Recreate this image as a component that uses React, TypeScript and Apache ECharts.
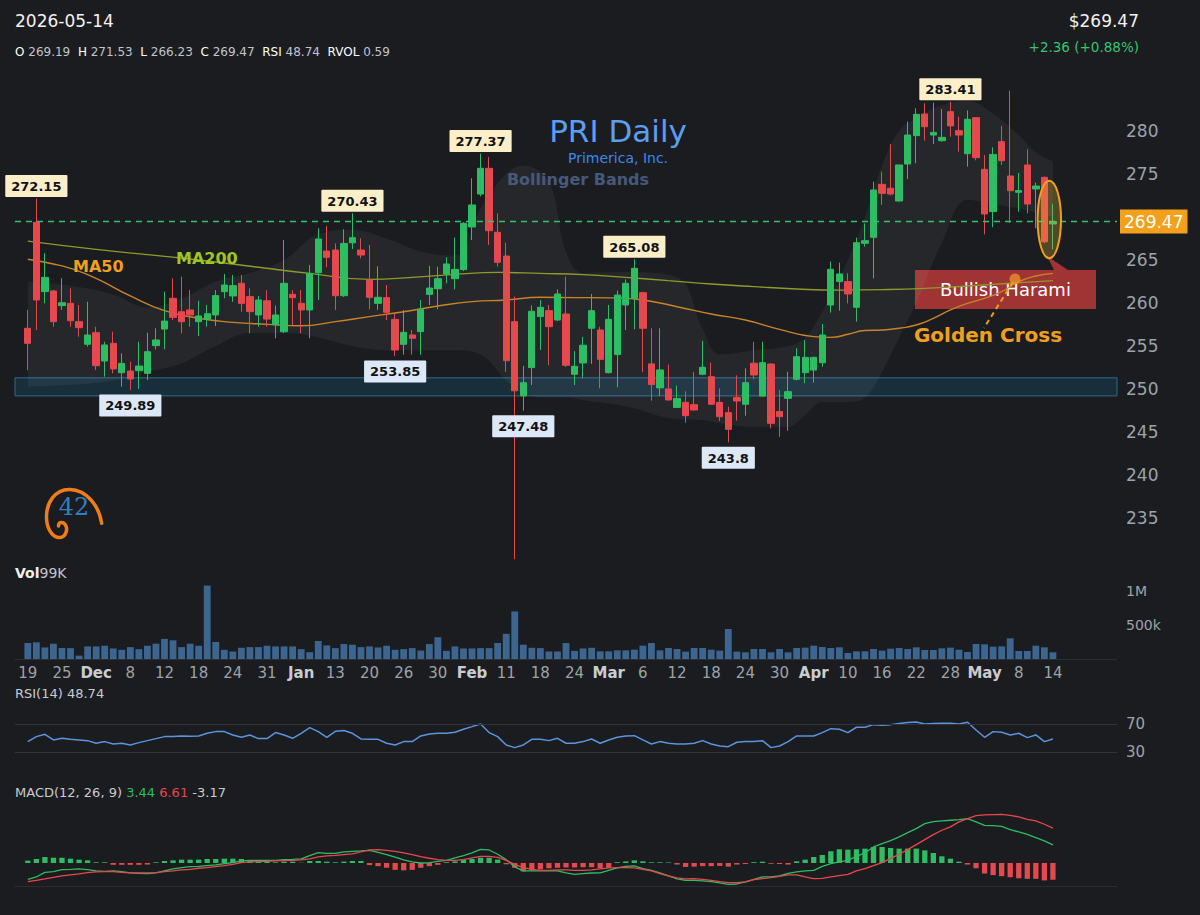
import React, { useEffect, useRef } from 'react';
import * as echarts from 'echarts';

// ---------- data ----------
const PAD_LEFT = 1;
const PAD_RIGHT = 7;
const TICK_EVERY = 4;
const X_TICKS = ['19','25','Dec','8','12','18','24','31','Jan','13','20','26','30','Feb','11','18','24','Mar','6','12','18','24','30','Apr','10','16','22','28','May','8','14'];
const MONTH_TICKS = ['Dec','Jan','Feb','Mar','Apr','May'];
const LAST_DATE = '2026-05-14';

const OPEN = [
257.06,269.38,261.32,261.40,259.69,259.96,257.83,255.20,256.55,253.26,
255.31,251.90,252.09,252.13,251.82,255.04,256.97,260.55,258.99,259.19,
257.83,258.13,258.61,261.32,260.82,262.29,260.74,258.61,260.26,257.47,
256.66,261.01,259.96,259.19,263.53,266.04,266.16,260.85,267.00,266.16,
262.67,259.96,260.62,258.10,255.19,256.28,256.67,261.00,261.66,263.37,
262.83,263.88,268.84,272.67,275.66,268.22,265.46,257.83,249.19,252.49,
258.42,259.11,258.02,258.72,251.71,253.03,257.06,256.86,251.90,254.00,
259.77,260.54,261.20,252.92,250.13,250.01,247.86,248.45,248.18,251.71,
251.43,248.45,247.25,249.00,248.22,253.00,249.18,252.90,247.37,248.91,
251.13,251.90,252.20,253.06,259.77,262.49,262.49,259.50,266.94,267.64,
273.80,273.34,271.86,276.16,279.46,281.98,279.53,278.87,282.25,280.04,
277.36,281.55,275.54,270.62,278.76,274.77,272.87,276.05,273.26,274.61,
269.19];
const HIGH = [
259.19,272.15,265.78,261.50,262.87,261.70,259.77,260.15,257.24,255.50,
256.66,254.15,253.17,255.50,256.55,257.06,261.32,262.87,263.06,261.50,
260.26,259.77,261.50,263.37,263.26,263.26,261.70,260.82,261.50,259.69,
267.33,261.50,261.51,264.42,268.69,268.95,266.93,268.57,270.43,267.52,
266.74,264.27,262.09,258.88,259.19,256.86,260.35,264.31,264.23,265.31,
267.60,269.40,274.50,277.37,276.98,270.42,267.01,260.74,252.68,259.73,
260.35,259.77,261.58,263.06,254.41,256.05,261.05,257.25,259.77,261.44,
262.75,265.08,261.30,257.06,257.06,252.84,250.40,249.74,252.00,255.62,
253.06,250.08,247.95,251.59,252.40,255.50,255.50,253.00,249.88,252.01,
254.73,255.70,253.75,257.56,264.81,264.69,263.46,267.60,269.26,274.11,
275.27,278.50,276.10,281.09,282.64,283.22,283.30,282.56,283.41,281.67,
282.40,281.60,277.20,278.10,280.58,284.70,275.12,277.87,273.99,274.70,
271.53];
const LOW = [
252.20,256.86,259.96,257.24,259.19,257.24,256.08,254.92,252.20,251.43,
251.82,250.27,249.89,250.00,251.05,254.61,254.61,258.02,256.47,257.24,
256.16,257.24,257.32,260.55,260.15,259.00,256.47,257.24,257.24,255.89,
256.50,257.44,256.48,255.90,260.35,264.15,259.19,260.70,266.28,265.19,
259.27,259.19,258.02,253.85,254.00,254.00,254.00,259.77,259.27,262.28,
261.58,263.70,267.32,272.40,266.74,264.23,252.00,230.20,247.48,250.46,
254.53,252.76,257.90,252.57,250.46,251.24,252.92,250.08,251.80,250.20,
256.86,256.94,251.95,248.64,249.18,248.64,247.80,246.08,247.50,251.60,
248.14,246.28,243.80,246.32,246.90,251.13,249.10,245.43,244.44,245.16,
251.00,250.67,250.75,252.59,258.88,259.11,259.96,257.83,266.55,262.87,
271.40,272.50,271.80,274.42,276.24,278.88,278.49,278.76,279.34,277.59,
275.85,276.59,267.98,268.82,276.05,269.30,270.62,270.43,268.68,266.95,
266.23];
const CLOSE = [
255.31,260.35,262.98,257.83,260.03,257.94,257.13,256.28,252.71,255.12,
252.33,252.98,251.16,252.67,254.34,255.70,257.90,258.33,257.83,258.61,
258.49,258.75,260.86,262.09,262.02,259.96,259.00,260.35,258.13,258.61,
262.29,260.62,259.19,263.45,267.44,265.31,260.85,266.93,267.60,265.58,
260.66,260.66,258.91,254.53,256.59,255.90,259.27,261.74,262.83,264.54,
263.91,269.27,271.40,275.66,268.41,264.73,253.29,249.80,250.74,259.04,
259.50,257.25,261.05,252.76,252.64,255.09,259.11,253.45,258.10,260.93,
262.29,264.03,257.06,250.52,252.22,248.73,248.91,246.90,247.56,252.52,
248.22,246.78,245.31,248.60,250.74,251.63,253.06,246.01,246.78,249.69,
253.76,253.68,253.68,256.28,263.92,263.38,261.05,267.01,267.25,273.14,
272.75,272.67,276.05,279.53,281.94,280.50,279.84,279.26,280.59,279.53,
281.36,276.90,270.35,277.28,276.55,273.06,273.07,271.51,273.60,267.11,
269.47];
const VOLUME_K = [
235,245,170,225,160,160,50,185,185,195,
155,135,175,145,195,225,295,275,175,225,
195,1080,250,135,110,165,175,175,195,185,
185,185,145,100,265,200,160,220,210,175,
185,170,195,135,145,160,125,220,320,120,
185,155,155,160,160,235,370,700,210,165,
160,110,110,235,120,155,165,113,113,127,
127,137,196,235,127,162,147,108,162,162,
137,123,441,108,98,147,147,98,147,98,
162,167,196,176,162,172,88,113,113,147,
123,152,162,147,172,132,132,157,167,137,
103,221,216,181,186,304,118,118,196,172,
99];
const RSI = [
45,52.2,55.6,47.4,49.8,48.3,47.4,46.4,42.6,45,
41.6,42.6,40.1,43.5,46.4,49.3,52.2,52.2,53.1,52.7,
53.1,57,59.4,59.4,54.6,51.2,54.6,49.3,49.3,58,
54.6,49.8,57,65.2,59.4,51.2,59.9,60.9,57,48.8,
48.3,48.3,42.6,40.1,45,45,53.1,56,57,57,
58.4,62.8,66.6,70.5,58,52.2,40.1,36.3,40.1,48.3,
48.3,46.4,49.8,42.6,42.6,45,48.8,42.6,47.4,51.2,
53.1,53.6,47.4,41.6,45,42.6,41.6,41.6,42.6,46.4,
41.6,38.7,37.7,44,45,45,46.4,36.3,38.7,45,
53.1,53.1,53.1,58,63.7,62.8,58,65.7,65.7,69.5,
68.6,69.5,71,72.4,73.4,70.5,71,71.4,71.4,70.5,
72.9,61.8,51.2,59.4,58.4,54.6,57,50.7,54.6,45,
48.74];
const MACD = [
-3.09,-2.65,-1.77,-1.64,-1.26,-1.20,-1.13,-1.26,-1.51,-1.58,
-1.51,-1.64,-1.89,-1.96,-2.02,-1.89,-1.51,-1.13,-0.88,-0.69,
-0.63,-0.50,-0.37,-0.12,0.07,0.39,0.51,0.51,0.51,0.51,
0.64,0.70,0.77,1.40,1.97,1.84,1.84,2.09,2.22,2.28,
2.40,2.00,1.60,1.10,0.60,0.20,0.00,0.05,0.30,0.51,
0.96,1.40,1.91,2.60,2.47,1.65,0.64,-0.75,-1.51,-1.51,
-1.51,-1.45,-1.51,-1.89,-2.15,-2.02,-1.90,-1.89,-1.39,-0.94,
-0.63,-0.56,-1.07,-1.39,-1.89,-2.46,-3.03,-3.28,-3.28,-3.41,
-3.54,-3.79,-4.04,-3.98,-3.60,-3.09,-2.65,-2.65,-2.46,-1.96,
-1.70,-1.51,-1.39,-0.63,-0.12,0.20,0.51,1.27,1.91,3.04,
3.68,4.25,4.94,5.77,6.53,7.47,7.85,7.98,8.11,8.23,
8.42,7.79,7.15,7.09,6.96,6.34,5.89,5.44,4.82,4.18,
3.44];
const SIGNAL = [
-3.54,-3.28,-3.03,-2.71,-2.46,-2.27,-2.08,-1.83,-1.70,-1.64,
-1.64,-1.77,-1.89,-1.89,-1.89,-1.83,-1.64,-1.51,-1.32,-1.20,
-1.00,-0.88,-0.69,-0.50,-0.25,0.07,0.20,0.26,0.32,0.39,
0.45,0.51,0.58,0.77,1.15,1.34,1.46,1.59,1.72,2.10,
2.50,2.55,2.40,2.20,1.90,1.60,1.20,0.90,0.65,0.51,
0.51,0.64,0.96,1.27,1.27,1.08,0.51,-0.25,-0.88,-1.20,
-1.39,-1.39,-1.32,-1.32,-1.39,-1.40,-1.30,-1.12,-0.94,-0.88,
-0.88,-0.94,-1.20,-1.51,-2.02,-2.46,-2.84,-3.03,-2.97,-3.09,
-3.28,-3.54,-3.73,-3.73,-3.60,-3.16,-2.97,-2.78,-2.53,-2.27,
-2.27,-2.65,-2.97,-2.90,-2.65,-2.40,-2.15,-1.51,-1.07,-0.50,
0.07,0.89,1.65,2.54,3.49,4.44,5.39,6.21,6.84,7.79,
8.42,8.99,9.12,9.18,9.24,9.05,8.74,8.29,7.98,7.35,
6.61];
const HIST = [
0.45,0.76,1.14,1.0,1.0,0.82,0.63,0.5,0.13,0.13,
-0.35,-0.35,-0.35,-0.35,-0.3,0.13,0.38,0.5,0.63,0.63,
0.63,0.76,0.76,0.82,0.82,0.76,0.5,0.32,0.25,0.13,
0.25,0.25,0.05,0.38,0.38,0.25,0.13,0.25,0.38,0.38,
-0.4,-0.6,-0.9,-1.3,-1.4,-1.3,-0.9,-0.6,-0.35,0.15,
0.3,0.63,0.76,1.0,1.0,0.63,-0.25,-0.9,-1.6,-1.4,
-1.2,-1.0,-0.9,-0.85,-0.85,-0.8,-0.8,-1.0,-0.9,0.15,
0.3,0.5,0.32,0.13,0.13,0.1,-0.3,-0.75,-0.7,-0.6,
-0.6,-0.55,-0.7,-0.3,-0.2,0.15,0.25,-0.15,-0.2,-0.3,
0.32,0.63,1.14,1.52,2.22,2.6,2.53,2.6,2.72,3.04,
3.04,2.85,2.72,2.72,2.72,2.4,1.9,1.27,0.82,0.25,
-0.3,-1.0,-2.0,-2.3,-2.5,-2.7,-2.9,-3.0,-3.0,-3.3,
-3.17];
// moving averages read at sample points [index, value]
const MA50 = [[0,265.08],[3,264.54],[5,264.03],[8,262.87],[12,260.82],[16,259.11],[20,258.22],[24,257.75],[28,257.52],[32,257.35],[36,257.83],[40,258.41],[44,258.99],[48,259.65],[52,260.16],[56,260.35],[60,260.66],[64,260.63],[68,260.6],[72,260.35],[76,259.57],[80,258.72],[84,258.02],[88,256.94],[92,256.09],[94,256.0],[96,256.36],[98,256.8],[100,256.86],[102,257.06],[104,257.44],[106,258.22],[108,259.19],[110,259.96],[112,260.54],[114,261.32],[116,262.48],[118,263.14],[120,263.45]];
const MA200 = [[0,267.2],[8,266.24],[20,265.0],[27,264.15],[33,263.45],[40,262.75],[45,262.98],[50,263.33],[55,263.56],[60,263.45],[65,263.3],[70,262.98],[75,262.6],[80,262.21],[85,261.9],[90,261.63],[95,261.5],[100,261.55],[105,261.7],[110,261.98],[115,262.3],[120,262.6]];
// Bollinger bands read at sample points
const BB_K =     [0,    5,    10,   14,   18,   22,   26,   30,   34,   38,   42,   46,   50,   53,   56,   58,   61,   63,   65,   70,   76,   79,   81,   85,   89,   91,   93,   96,   98,   100,  102,  104,  107,  110,  113,  116,  118,  120];
const BB_UPPER = [262.5,262.0,261.0,259.5,260.5,262.5,263.5,265.0,268.0,268.5,267.5,266.0,265.5,271.0,275.0,276.0,274.0,266.0,263.5,263.6,263.0,257.0,254.0,254.5,255.0,256.0,259.0,265.0,270.0,276.0,280.0,281.5,283.0,283.5,282.0,279.5,277.5,276.5];
const BB_LOWER = [250.3,250.5,251.0,252.0,253.0,255.0,256.5,256.5,256.0,255.0,254.5,254.5,254.5,254.0,251.0,249.5,249.0,249.0,248.7,248.0,246.5,246.4,246.0,245.6,245.6,247.0,248.5,248.5,249.0,252.0,256.0,260.0,267.0,272.0,271.5,271.0,270.5,270.0];
const SWING_HIGHS = [[1,272.15],[38,270.43],[53,277.37],[71,265.08],[108,283.41]];
const SWING_LOWS = [[12,249.89],[43,253.85],[58,247.48],[82,243.8]];
const SUPPORT_ZONE = [249.2, 251.3];
const RSI_LEVELS = [70, 30];
const PRICE_CHANGE = 2.36;
const PRICE_CHANGE_PCT = 0.88;
const RVOL = 0.59;

// ---------- styles ----------
const BG = '#1b1c20';
const UP = '#2dbd63';
const DOWN = '#e5484d';
const FONT = 'DejaVu Sans';
const AXIS_TXT = '#9ea2aa';

const N = CLOSE.length;
const N_CAT = PAD_LEFT + N + PAD_RIGHT;
const CATEGORIES = Array.from({ length: N_CAT }, (_, i) => `c${i}`);
const xi = (k: number) => k + PAD_LEFT;

const LOGO_PATH = 'M101.7 523.3 C99 505 86 490 70 489.5 C55 489 46 503 46.5 518 C47 531 54 538 60 537.5 C66 537 68 529 65.5 525 C63 521 58.5 522 58.5 526';

function txt(x: number, y: number, text: string, o: any = {}) {
  return {
    type: 'text', x, y, z: o.z ?? 100,
    style: {
      text, fill: o.fill ?? '#e8e8e8', fontSize: o.size ?? 14, fontFamily: o.family ?? FONT,
      fontWeight: o.weight ?? 'normal', align: o.align ?? 'left', verticalAlign: 'middle',
      rich: o.rich,
    },
  };
}

function buildOption() {
  const last = N - 1;
  const candleData = CLOSE.map((c, i) => [xi(i), OPEN[i], c, LOW[i], HIGH[i]]);
  const labelBox = (bg: string) => ({
    show: true, color: '#111', backgroundColor: bg, fontFamily: FONT, fontWeight: 'bold',
    fontSize: 13, padding: [5, 6, 4, 6], borderRadius: 1,
  });
  const markPts = [
    ...SWING_HIGHS.map(([k, v]) => ({ coord: [xi(k), v], label: { ...labelBox('#fcefc8'), position: 'top', distance: 1, formatter: String(v) } })),
    ...SWING_LOWS.map(([k, v]) => ({ coord: [xi(k), v], label: { ...labelBox('#dce8f8'), position: 'bottom', distance: 4, formatter: String(v) } })),
  ];

  const xAxisBase = (gridIndex: number, extra: any = {}) => ({
    type: 'category', gridIndex, data: CATEGORIES, boundaryGap: true,
    axisTick: { show: false }, axisLabel: { show: false }, axisLine: { show: false },
    splitLine: { show: false }, ...extra,
  });
  const grid = (top: number, height: number) => ({ left: 15, right: 83, top, height, containLabel: false, outerBoundsMode: 'none' });

  const monthSet = new Set(MONTH_TICKS);
  return {
    animation: false,
    backgroundColor: BG,
    textStyle: { fontFamily: FONT },
    grid: [grid(70.8, 490.2), grid(584.2, 74.8), grid(703.5, 76.2), grid(805, 81)],
    xAxis: [
      xAxisBase(0),
      xAxisBase(1, {
        axisLine: { show: true, lineStyle: { color: '#2c2e34' } },
        axisLabel: {
          show: true, margin: 6,
          interval: (index: number) => index >= PAD_LEFT && (index - PAD_LEFT) % TICK_EVERY === 0 && (index - PAD_LEFT) / TICK_EVERY < X_TICKS.length,
          formatter: (_v: string, index: number) => {
            const t = X_TICKS[(index - PAD_LEFT) / TICK_EVERY];
            if (t === undefined) return '';
            return monthSet.has(t) ? `{m|${t}}` : `{d|${t}}`;
          },
          rich: {
            m: { color: '#c9ccd2', fontWeight: 'bold', fontSize: 15, fontFamily: FONT },
            d: { color: AXIS_TXT, fontSize: 15, fontFamily: FONT },
          },
        },
      }),
      xAxisBase(2),
      xAxisBase(3, { axisLine: { show: true, onZero: false, lineStyle: { color: '#2a2c31' } } }),
    ],
    yAxis: [
      {
        type: 'value', gridIndex: 0, position: 'right', min: 230, max: 287, interval: 5,
        splitLine: { show: false }, axisLine: { show: false }, axisTick: { show: false },
        axisLabel: {
          color: AXIS_TXT, fontSize: 17, margin: 9, align: 'left',
          // the last-price tag covers the tick next to it
          formatter: (v: number) => (v >= 235 && v <= 280 && Math.abs(v - CLOSE[last]) > 2.5 ? String(v) : ''),
        },
      },
      {
        type: 'value', gridIndex: 1, position: 'right', min: 0, max: 1100, interval: 500,
        splitLine: { show: false }, axisLine: { show: false }, axisTick: { show: false },
        axisLabel: { color: AXIS_TXT, fontSize: 14, margin: 9, align: 'left', formatter: (v: number) => (v === 500 ? '500k' : v === 1000 ? '1M' : '') },
      },
      {
        type: 'value', gridIndex: 2, position: 'right', min: -10, max: 100, interval: 20,
        splitLine: { show: false }, axisLine: { show: false }, axisTick: { show: false },
        axisLabel: { color: AXIS_TXT, fontSize: 15, margin: 9, align: 'left', formatter: (v: number) => (RSI_LEVELS.includes(v) ? String(v) : '') },
      },
      {
        type: 'value', gridIndex: 3, position: 'right', min: -4.364, max: 11,
        splitLine: { show: false }, axisLine: { show: false }, axisTick: { show: false }, axisLabel: { show: false },
      },
    ],
    series: [
      {
        name: 'bbLower', type: 'line', xAxisIndex: 0, yAxisIndex: 0, stack: 'bb', smooth: 0.4, symbol: 'none', silent: true,
        lineStyle: { opacity: 0 }, data: BB_LOWER.map((v, j) => [xi(BB_K[j]), v]), z: 1,
      },
      {
        name: 'bbWidth', type: 'line', xAxisIndex: 0, yAxisIndex: 0, stack: 'bb', smooth: 0.4, symbol: 'none', silent: true,
        lineStyle: { opacity: 0 }, areaStyle: { color: 'rgba(255,255,255,0.075)' },
        data: BB_UPPER.map((v, j) => [xi(BB_K[j]), +(v - BB_LOWER[j]).toFixed(2)]), z: 1,
      },
      {
        name: 'MA200', type: 'line', xAxisIndex: 0, yAxisIndex: 0, smooth: true, symbol: 'none', silent: true,
        lineStyle: { color: '#8e9a2c', width: 1.4 }, data: MA200.map(([k, v]) => [xi(k), v]), z: 3,
      },
      {
        name: 'MA50', type: 'line', xAxisIndex: 0, yAxisIndex: 0, smooth: true, symbol: 'none', silent: true,
        lineStyle: { color: '#c9842a', width: 1.4 }, data: MA50.map(([k, v]) => [xi(k), v]), z: 3,
      },
      {
        name: 'PRI', type: 'candlestick', xAxisIndex: 0, yAxisIndex: 0, data: candleData,
        encode: { x: 0, y: [1, 2, 3, 4] }, barWidth: '80%', z: 4,
        itemStyle: { color: UP, color0: DOWN, borderColor: UP, borderColor0: DOWN, borderWidth: 1 },
        markPoint: { symbol: 'rect', symbolSize: 1, itemStyle: { color: 'rgba(0,0,0,0)' }, silent: true, data: markPts },
        markLine: {
          silent: true, symbol: ['none', 'none'],
          lineStyle: { color: '#2fc46c', type: [6, 5], width: 1.3 },
          label: {
            show: true, position: 'end', distance: 3, formatter: CLOSE[last].toFixed(2),
            color: '#ffffff', backgroundColor: '#f5a01a', fontSize: 17, fontFamily: FONT, padding: [4, 4, 3, 4],
          },
          data: [{ yAxis: CLOSE[last] }],
        },
        markArea: {
          silent: true,
          itemStyle: { color: 'rgba(24,76,104,0.38)', borderColor: '#2b6c8c', borderWidth: 1 },
          data: [[{ yAxis: SUPPORT_ZONE[1] }, { yAxis: SUPPORT_ZONE[0] }]],
        },
      },
      {
        name: 'Volume', type: 'bar', xAxisIndex: 1, yAxisIndex: 1, barWidth: '80%', silent: true,
        itemStyle: { color: '#3c6590' }, data: VOLUME_K.map((v, i) => [xi(i), v]),
      },
      {
        name: 'RSI', type: 'line', xAxisIndex: 2, yAxisIndex: 2, symbol: 'none', silent: true,
        lineStyle: { color: '#5a94dc', width: 1.5 }, data: RSI.map((v, i) => [xi(i), v]),
        markLine: {
          silent: true, symbol: ['none', 'none'], label: { show: false },
          lineStyle: { color: '#32343a', type: 'solid', width: 1 },
          data: RSI_LEVELS.map((v) => ({ yAxis: v })),
        },
      },
      {
        name: 'Hist', type: 'bar', xAxisIndex: 3, yAxisIndex: 3, barWidth: '62%', silent: true,
        data: HIST.map((v, i) => ({ value: [xi(i), v], itemStyle: { color: v >= 0 ? UP : DOWN } })),
      },
      {
        name: 'MACD', type: 'line', xAxisIndex: 3, yAxisIndex: 3, symbol: 'none', silent: true,
        lineStyle: { color: UP, width: 1.3 }, data: MACD.map((v, i) => [xi(i), v]),
      },
      {
        name: 'Signal', type: 'line', xAxisIndex: 3, yAxisIndex: 3, symbol: 'none', silent: true,
        lineStyle: { color: DOWN, width: 1.3 }, data: SIGNAL.map((v, i) => [xi(i), v]),
      },
    ],
    graphic: [
      txt(15, 21, LAST_DATE, { size: 17, fill: '#f2f2f2' }),
      txt(15, 52, `{k|O} {v|${OPEN[last]}}  {k|H} {v|${HIGH[last]}}  {k|L} {v|${LOW[last]}}  {k|C} {v|${CLOSE[last]}}  {k|RSI} {v|${RSI[last]}}  {k|RVOL} {v|${RVOL}}`, {
        size: 12,
        rich: {
          k: { fill: '#ffffff', fontSize: 12, fontFamily: FONT },
          v: { fill: '#c2c5cb', fontSize: 12, fontFamily: FONT },
        },
      }),
      txt(1139, 21, `$${CLOSE[last].toFixed(2)}`, { size: 17, fill: '#f2f2f2', align: 'right' }),
      txt(1139, 47, `+${PRICE_CHANGE.toFixed(2)} (+${PRICE_CHANGE_PCT.toFixed(2)}%)`, { size: 13.5, fill: '#38c56d', align: 'right' }),
      txt(618, 131, 'PRI Daily', { size: 31, fill: '#5b9ff2', align: 'center' }),
      txt(618, 158, 'Primerica, Inc.', { size: 14, fill: '#3f86ea', align: 'center' }),
      txt(578, 179, 'Bollinger Bands', { size: 16, weight: 'bold', fill: '#46597b', align: 'center' }),
      txt(73, 266, 'MA50', { size: 16, weight: 'bold', fill: '#f0a020' }),
      txt(176, 258, 'MA200', { size: 16, weight: 'bold', fill: '#9cc624' }),
      { type: 'rect', z: 1, shape: { x: 915, y: 270, width: 181, height: 39 }, style: { fill: '#a03333' } },
      { type: 'polygon', z: 1, shape: { points: [[1047, 256], [1054, 270], [1068, 270]] }, style: { fill: '#a03333' } },
      txt(1005.5, 289.5, 'Bullish Harami', { size: 18, fill: '#ffffff', align: 'center', z: 1 }),
      { type: 'ellipse', z: 100, shape: { cx: 1049.3, cy: 219.5, rx: 11.7, ry: 38.8 }, style: { fill: 'rgba(226,186,50,0.28)', stroke: '#f0a020', lineWidth: 2 } },
      { type: 'circle', z: 100, shape: { cx: 1015, cy: 279, r: 5.5 }, style: { fill: 'rgba(240,150,40,0.75)' } },
      { type: 'line', z: 100, shape: { x1: 1013, y1: 282, x2: 984, y2: 328 }, style: { stroke: '#f0a020', lineWidth: 2, lineDash: [5, 4] } },
      txt(988, 335, 'Golden Cross', { size: 20, weight: 'bold', fill: '#f0a020', align: 'center' }),
      txt(15, 573, '{b|Vol}{n|99K}', {
        size: 14,
        rich: { b: { fill: '#f0f0f0', fontWeight: 'bold', fontSize: 14, fontFamily: FONT }, n: { fill: '#c2c5cb', fontSize: 14, fontFamily: FONT } },
      }),
      txt(15, 693, `RSI(14) ${RSI[last]}`, { size: 13, fill: '#c8cbd0' }),
      txt(15, 792, `{a|MACD(12, 26, 9)} {g|${MACD[last].toFixed(2)}} {r|${SIGNAL[last].toFixed(2)}} {a|${HIST[last].toFixed(2)}}`, {
        size: 13,
        rich: {
          a: { fill: '#c8cbd0', fontSize: 13, fontFamily: FONT },
          g: { fill: UP, fontSize: 13, fontFamily: FONT },
          r: { fill: DOWN, fontSize: 13, fontFamily: FONT },
        },
      }),
      { type: 'logo42', z: 100, x: 0, y: 0, shape: {}, style: { fill: 'none', stroke: '#f07d1c', lineWidth: 3.5, lineCap: 'round' } },
      txt(74, 507, '42', { size: 24, fill: '#2f7fc1', align: 'center', family: 'DejaVu Serif' }),
    ],
  };
}

export default function App() {
  const ref = useRef<HTMLDivElement>(null);
  useEffect(() => {
    document.body.style.margin = '0';
    document.body.style.background = BG;
    echarts.graphic.registerShape('logo42', echarts.graphic.extendPath(LOGO_PATH, {}));
    const chart = echarts.init(ref.current as HTMLDivElement, null, { renderer: 'svg' });
    chart.setOption(buildOption() as any);
    return () => chart.dispose();
  }, []);
  return <div ref={ref} style={{ position: 'fixed', left: 0, top: 0, width: 1200, height: 915, background: BG }} />;
}
